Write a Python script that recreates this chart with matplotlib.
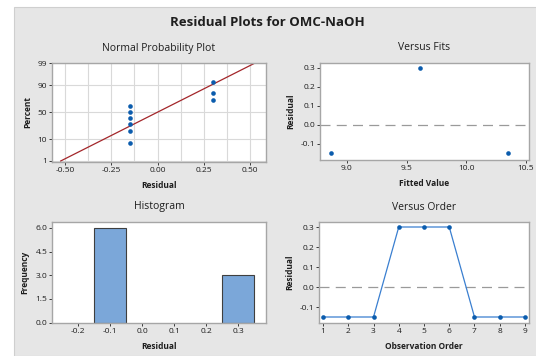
import numpy as np
import matplotlib
matplotlib.use('Agg')
import matplotlib.pyplot as plt
from statistics import NormalDist

plt.rcParams['font.family'] = ['Open Sans', 'DejaVu Sans']

# residual data
resid_pp = [-0.15, -0.15, -0.15, -0.15, -0.15, -0.15, 0.30, 0.30, 0.30]
pct_pp = [7.4, 18.1, 28.7, 39.4, 50.0, 60.6, 71.3, 81.9, 92.6]
fit_line_x = [-0.523, 0.523]
fit_line_pct = [1, 99]
pp_yticks = [1, 10, 50, 90, 99]
pp_xticks = [-0.50, -0.25, 0.00, 0.25, 0.50]

fits = [8.87, 9.61, 10.35]
fit_resid = [-0.15, 0.30, -0.15]

hist_centers = [-0.1, 0.3]
hist_counts = [6, 3]

order = [1, 2, 3, 4, 5, 6, 7, 8, 9]
order_resid = [-0.15, -0.15, -0.15, 0.30, 0.30, 0.30, -0.15, -0.15, -0.15]

W, H = 536, 356
bg = '#e6e6e6'
spine_c = '#a6a6a6'
blue = '#0b5cad'
txt = '#1e1e1e'

nd = NormalDist()
def z(p):
    return [nd.inv_cdf(v / 100.0) for v in p]

fig = plt.figure(figsize=(W / 100, H / 100), dpi=100)
fig.patch.set_facecolor('white')
fig.add_artist(plt.Rectangle((14 / W, 0), 1, (H - 7) / H, transform=fig.transFigure,
                             facecolor=bg, edgecolor='#cfcfcf', lw=0.8, zorder=-10))

def box(l, r, t, b):
    return fig.add_axes([l / W, 1 - b / H, (r - l) / W, (b - t) / H])

def style(ax, title, xlabel, ylabel):
    ax.set_facecolor('white')
    for s in ax.spines.values():
        s.set_color(spine_c)
        s.set_linewidth(1.0)
    ax.tick_params(labelsize=6, colors=txt, length=2, width=0.6, pad=1.5)
    ax.set_title(title, fontsize=7.5, color=txt, pad=9)
    ax.set_xlabel(xlabel, fontsize=6, fontweight='bold', color=txt, labelpad=5)
    ax.set_ylabel(ylabel, fontsize=6, fontweight='bold', color=txt, labelpad=4)

# Normal probability plot
ax1 = box(52, 266, 63, 162)
style(ax1, 'Normal Probability Plot', 'Residual', 'Percent')
for gx in np.arange(-0.5, 0.51, 0.125):
    ax1.axvline(gx, color='#d9d9d9', lw=0.8, zorder=0)
for gy in pp_yticks:
    ax1.axhline(z([gy])[0], color='#d9d9d9', lw=0.8, zorder=0)
ax1.plot(fit_line_x, z(fit_line_pct), color='#a3262a', lw=0.9, zorder=2)
ax1.scatter(resid_pp, z(pct_pp), s=11, color=blue, marker='o', zorder=3, linewidths=0)
ax1.set_xlim(-0.57, 0.585)
ax1.set_ylim(-2.375, 2.34)
ax1.set_xticks(pp_xticks)
ax1.set_xticklabels(['%.2f' % v for v in pp_xticks])
ax1.set_yticks(z(pp_yticks))
ax1.set_yticklabels([str(v) for v in pp_yticks])

# Versus fits
ax2 = box(320, 529, 63, 160)
style(ax2, 'Versus Fits', 'Fitted Value', 'Residual')
ax2.axhline(0, color='#9a9a9a', lw=0.9, dashes=(8, 5), zorder=1)
ax2.scatter(fits, fit_resid, s=11, color=blue, marker='o', zorder=3, linewidths=0)
ax2.set_xlim(8.775, 10.525)
ax2.set_ylim(-0.185, 0.326)
ax2.set_xticks([9.0, 9.5, 10.0, 10.5])
ax2.set_yticks([-0.1, 0.0, 0.1, 0.2, 0.3])
ax2.set_yticklabels(['-0.1', '0.0', '0.1', '0.2', '0.3'])

# Histogram
ax3 = box(52, 266, 222, 323)
style(ax3, 'Histogram', 'Residual', 'Frequency')
ax3.bar(hist_centers, hist_counts, width=0.098, color='#7ba7d9', edgecolor='#3f3f3f', lw=0.8, zorder=2)
ax3.set_xlim(-0.281, 0.387)
ax3.set_ylim(-0.03, 6.38)
ax3.set_xticks([-0.2, -0.1, 0.0, 0.1, 0.2, 0.3])
ax3.set_xticklabels(['-0.2', '-0.1', '0.0', '0.1', '0.2', '0.3'])
ax3.set_yticks([0, 1.5, 3.0, 4.5, 6.0])
ax3.set_yticklabels(['0.0', '1.5', '3.0', '4.5', '6.0'])

# Versus order
ax4 = box(319, 529, 222, 323)
style(ax4, 'Versus Order', 'Observation Order', 'Residual')
ax4.axhline(0, color='#9a9a9a', lw=0.9, dashes=(8, 5), zorder=1)
ax4.plot(order, order_resid, color='#3a7fd0', lw=0.9, zorder=2)
ax4.scatter(order, order_resid, s=11, color=blue, marker='o', zorder=3, linewidths=0)
ax4.set_xlim(0.84, 9.16)
ax4.set_ylim(-0.18, 0.325)
ax4.set_xticks(order)
ax4.set_yticks([-0.1, 0.0, 0.1, 0.2, 0.3])
ax4.set_yticklabels(['-0.1', '0.0', '0.1', '0.2', '0.3'])

fig.text(267 / W, 1 - 22 / H, 'Residual Plots for OMC-NaOH', ha='center', va='center',
         fontsize=9.5, fontweight='bold', color=txt)

fig.savefig('out.png', dpi=100, facecolor=fig.get_facecolor())
